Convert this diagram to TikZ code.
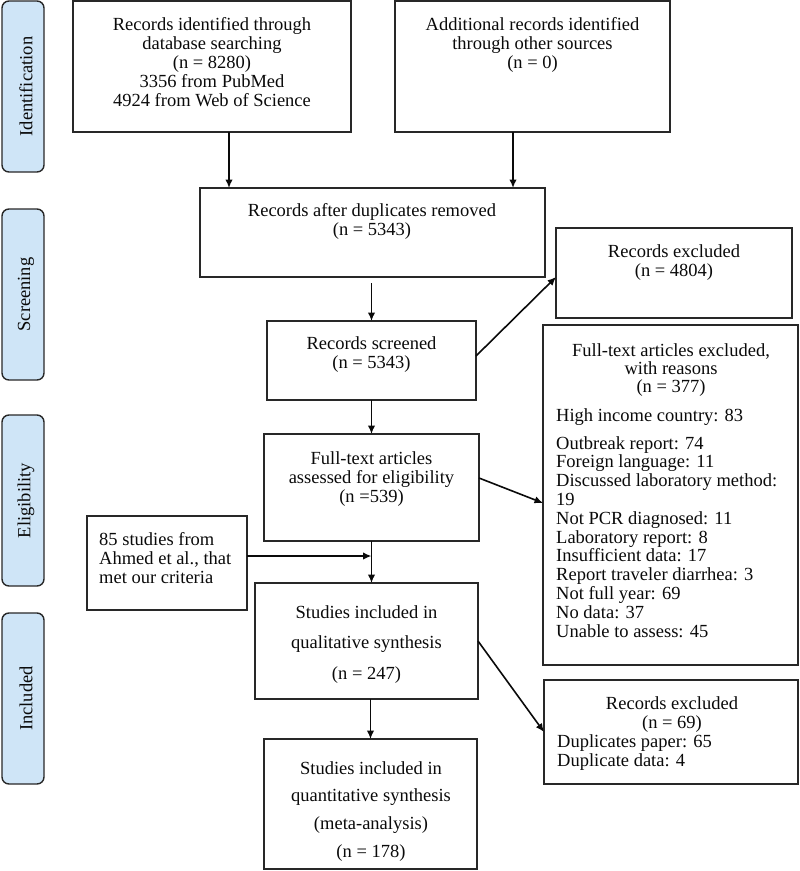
\documentclass[tikz,border=0pt]{standalone}
\usepackage{fontspec}
\setmainfont{Liberation Serif}
\usetikzlibrary{arrows.meta}
\definecolor{sideblue}{RGB}{207,229,247}
\definecolor{edge}{RGB}{40,40,40}
\definecolor{ink}{RGB}{10,10,10}
\begin{document}
\begin{tikzpicture}[x=1pt,y=-1pt,
  box/.style={draw=edge, line width=1.6pt, rectangle, inner sep=0pt, outer sep=0pt, anchor=north west},
  side/.style={draw=edge, line width=1.4pt, fill=sideblue, rounded corners=7pt, rectangle, inner sep=0pt, outer sep=0pt, anchor=north west, minimum width=42pt, minimum height=171pt},
  txt/.style={inner sep=0pt, text=ink, font=\fontsize{18.5}{19}\selectfont, align=center, anchor=north},
  ltxt/.style={txt, align=left, anchor=north west},
  sidetxt/.style={inner sep=0pt, text=ink, font=\fontsize{18.5}{19}\selectfont, rotate=90},
  arr/.style={draw=ink, line width=1.6pt, -{Latex[length=8.5pt,width=7.5pt]}}]
\useasboundingbox (0,0) rectangle (800,871);

% side labels
\node[side] (s1) at (2,1) {};
\node[sidetxt] (s1t) at (26,86.5) {Identification};
\node[side] (s2) at (2,209) {};
\node[sidetxt] (s2t) at (26,294.5) {Screening};
\node[side] (s3) at (2,415) {};
\node[sidetxt] (s3t) at (26,500.5) {Eligibility};
\node[side] (s4) at (2,613) {};
\node[sidetxt] (s4t) at (26,698.5) {Included};

% boxes
\node[box, minimum width=278pt, minimum height=131pt] (A) at (73,1) {};
\node[box, minimum width=275pt, minimum height=131pt] (B) at (395,1) {};
\node[box, minimum width=345pt, minimum height=89pt] (C) at (200,188) {};
\node[box, minimum width=209pt, minimum height=79pt] (D) at (267,321) {};
\node[box, minimum width=236pt, minimum height=90pt] (E) at (556,228) {};
\node[box, minimum width=255pt, minimum height=340pt] (F) at (543,325) {};
\node[box, minimum width=215pt, minimum height=107pt] (G) at (264,434) {};
\node[box, minimum width=160pt, minimum height=94pt] (N) at (87,516) {};
\node[box, minimum width=223pt, minimum height=116pt] (H) at (255,583) {};
\node[box, minimum width=254pt, minimum height=104pt] (J) at (544,680) {};
\node[box, minimum width=213pt, minimum height=130pt] (K) at (264,739) {};

% texts
\node[txt] (tA) at (212,17) {Records identified through\\database searching\\(n = 8280)\\3356 from PubMed\\4924 from Web of Science};
\node[txt] (tB) at (532.5,17) {Additional records identified\\through other sources\\(n = 0)};
\node[txt] (tC) at (372,203) {Records after duplicates removed\\(n = 5343)};
\node[txt] (tD) at (371.5,336) {Records screened\\(n = 5343)};
\node[txt] (tE) at (674,244) {Records excluded\\(n = 4804)};
\node[txt, font=\fontsize{18.5}{18}\selectfont] (tF1) at (671,343) {Full-text articles excluded,\\with reasons\\(n = 377)};
\node[ltxt] (tF2) at (556,408) {High income country: 83};
\node[ltxt, font=\fontsize{18.5}{18.8}\selectfont] (tF3) at (556,436) {Outbreak report: 74\\Foreign language: 11\\Discussed laboratory method:\\19\\Not PCR diagnosed: 11\\Laboratory report: 8\\Insufficient data: 17\\Report traveler diarrhea: 3\\Not full year: 69\\No data: 37\\Unable to assess: 45};
\node[txt] (tG) at (371.5,451) {Full-text articles\\assessed for eligibility\\(n =539)};
\node[ltxt] (tN) at (99,532) {85 studies from\\Ahmed et al., that\\met our criteria};
\node[txt, font=\fontsize{18.5}{30.5}\selectfont] (tH) at (366.5,605) {Studies included in\\qualitative synthesis\\(n = 247)};
\node[txt] (tJ1) at (672,696) {Records excluded\\(n = 69)};
\node[ltxt] (tJ2) at (557,734) {Duplicates paper: 65\\Duplicate data: 4};
\node[txt, font=\fontsize{18.5}{27.7}\selectfont] (tK) at (371,761) {Studies included in\\quantitative synthesis\\(meta-analysis)\\(n = 178)};

% connectors
\draw[arr] ([xshift=17pt]A.south) -- ([xshift=17pt]A.south |- C.north);
\draw[arr] ([xshift=-19.5pt]B.south) -- ([xshift=-19.5pt]B.south |- C.north);
\draw[arr, shorten <=6pt] (D.north |- C.south) -- (D.north);
\draw[arr] ([yshift=4.5pt]D.east) -- ([yshift=-4pt]E.west);
\draw[arr] (D.south) -- (D.south |- G.north);
\draw[arr] ([yshift=9.5pt]G.east) -- ([yshift=-8pt]F.west);
\draw[arr] (G.south) -- (G.south |- H.north);
\draw[arr] ([yshift=7pt]N.east) -- ([yshift=7pt]N.east -| G.south);
\draw[arr] (H.east) -- (J.west);
\draw[arr] (K.north |- H.south) -- (K.north);
\end{tikzpicture}
\end{document}
